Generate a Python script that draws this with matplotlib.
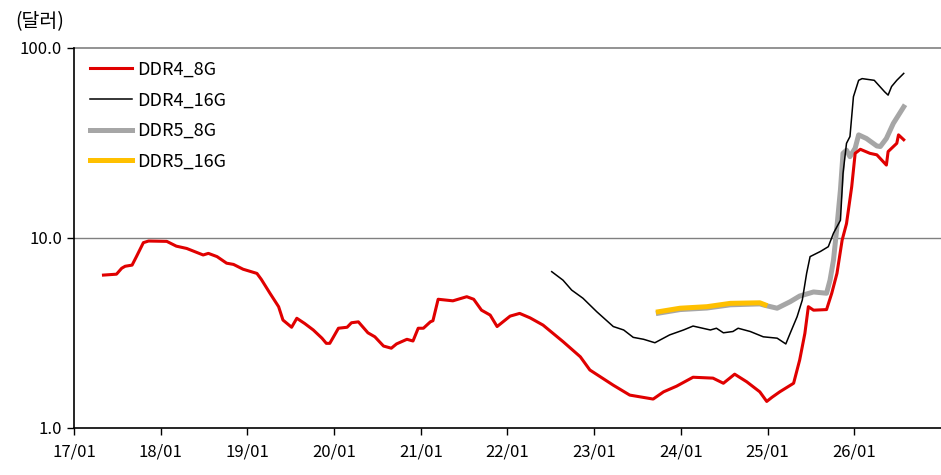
import matplotlib
matplotlib.use("Agg")
import matplotlib.pyplot as plt
from matplotlib.ticker import FixedLocator, NullLocator

plt.rcParams['font.family'] = ['Noto Sans CJK KR', 'DejaVu Sans']

# decimal years
t_red = [2017.34, 2017.49, 2017.55, 2017.59, 2017.67, 2017.72, 2017.80, 2017.86, 2018.07, 2018.18,
         2018.30, 2018.49, 2018.55, 2018.65, 2018.76, 2018.84, 2018.95, 2019.11, 2019.16, 2019.26,
         2019.36, 2019.41, 2019.51, 2019.57, 2019.66, 2019.76, 2019.86, 2019.91, 2019.95, 2019.99,
         2020.05, 2020.15, 2020.20, 2020.28, 2020.39, 2020.47, 2020.57, 2020.66, 2020.72, 2020.84,
         2020.91, 2020.97, 2021.03, 2021.11, 2021.14, 2021.20, 2021.37, 2021.53, 2021.61, 2021.70,
         2021.80, 2021.88, 2022.03, 2022.14, 2022.26, 2022.41, 2022.64, 2022.84, 2022.95, 2023.22,
         2023.41, 2023.68, 2023.80, 2023.95, 2024.14, 2024.37, 2024.49, 2024.62, 2024.76, 2024.91,
         2024.99, 2025.05, 2025.14, 2025.30, 2025.37, 2025.43, 2025.47, 2025.53, 2025.68, 2025.74,
         2025.80, 2025.86, 2025.91, 2025.97, 2026.01, 2026.07, 2026.18, 2026.26, 2026.37, 2026.39,
         2026.49, 2026.51, 2026.57]
v_red = [6.38, 6.45, 6.93, 7.10, 7.20, 7.98, 9.45, 9.64, 9.60, 9.06,
         8.81, 8.14, 8.30, 7.98, 7.37, 7.26, 6.85, 6.51, 6.06, 5.12,
         4.35, 3.70, 3.39, 3.78, 3.55, 3.28, 2.97, 2.79, 2.79, 3.00,
         3.35, 3.39, 3.58, 3.62, 3.17, 3.02, 2.70, 2.63, 2.77, 2.93,
         2.87, 3.35, 3.35, 3.62, 3.67, 4.76, 4.67, 4.91, 4.76, 4.17,
         3.93, 3.42, 3.88, 4.01, 3.80, 3.48, 2.85, 2.37, 2.02, 1.68,
         1.49, 1.42, 1.55, 1.66, 1.85, 1.83, 1.72, 1.92, 1.75, 1.55,
         1.38, 1.45, 1.55, 1.72, 2.28, 3.15, 4.35, 4.17, 4.20, 5.12,
         6.51, 9.76, 11.9, 18.6, 27.9, 29.3, 27.9, 27.4, 24.2, 28.5,
         31.5, 34.9, 32.9]

t_d4_16 = [2022.51, 2022.64, 2022.74, 2022.87, 2023.03, 2023.22, 2023.34, 2023.45, 2023.57, 2023.70,
           2023.87, 2024.03, 2024.14, 2024.34, 2024.41, 2024.49, 2024.60, 2024.66, 2024.80, 2024.95,
           2025.11, 2025.21, 2025.26, 2025.34, 2025.40, 2025.45, 2025.49, 2025.61, 2025.70, 2025.76,
           2025.84, 2025.87, 2025.91, 2025.95, 2025.99, 2026.05, 2026.09, 2026.23, 2026.35, 2026.39,
           2026.43, 2026.49, 2026.57]
v_d4_16 = [6.65, 6.00, 5.32, 4.82, 4.09, 3.42, 3.28, 3.00, 2.93, 2.81,
           3.09, 3.28, 3.44, 3.28, 3.35, 3.17, 3.22, 3.35, 3.22, 3.02,
           2.97, 2.77, 3.15, 3.85, 4.71, 6.51, 7.98, 8.50, 9.00, 10.6,
           12.4, 21.9, 31.5, 34.2, 55.4, 67.6, 69.0, 67.6, 58.8, 56.5,
           62.7, 67.6, 73.5]

t_d5_8 = [2023.74, 2023.99, 2024.30, 2024.57, 2024.91, 2024.97, 2025.11, 2025.26, 2025.37, 2025.53,
          2025.68, 2025.72, 2025.76, 2025.80, 2025.84, 2025.87, 2025.91, 2025.95, 2026.01, 2026.05,
          2026.14, 2026.26, 2026.30, 2026.37, 2026.45, 2026.57]
v_d5_8 = [4.02, 4.20, 4.28, 4.45, 4.50, 4.42, 4.27, 4.62, 4.95, 5.20,
          5.12, 6.00, 7.65, 11.5, 17.9, 27.9, 29.0, 26.8, 29.7, 34.9,
          33.4, 30.5, 30.3, 33.4, 40.1, 49.0]

t_d5_16 = [2023.74, 2023.99, 2024.30, 2024.57, 2024.91, 2024.97]
v_d5_16 = [4.09, 4.27, 4.35, 4.53, 4.56, 4.45]

tick_years = [2017, 2018, 2019, 2020, 2021, 2022, 2023, 2024, 2025, 2026]
tick_labels = ["17/01", "18/01", "19/01", "20/01", "21/01", "22/01", "23/01", "24/01", "25/01", "26/01"]
y_ticks = [1, 10, 100]
y_labels = ["1.0", "10.0", "100.0"]

fig = plt.figure(figsize=(9.41, 4.75), dpi=100)
ax = fig.add_axes([74/941, 1-428/475, 1-74/941, (428-48)/475])

ax.plot(t_red, v_red, color='#E00000', lw=2.2, label='DDR4_8G', zorder=3)
ax.plot(t_d4_16, v_d4_16, color='black', lw=1.1, label='DDR4_16G', zorder=4)
ax.plot(t_d5_8, v_d5_8, color='#A6A6A6', lw=3.6, label='DDR5_8G', zorder=2)
ax.plot(t_d5_16, v_d5_16, color='#FFC000', lw=3.6, label='DDR5_16G', zorder=2.5)

ax.set_yscale('log')
ax.set_ylim(1, 100)
ax.set_xlim(2017, 2027)
ax.yaxis.set_major_locator(FixedLocator(y_ticks))
ax.yaxis.set_minor_locator(NullLocator())
ax.set_yticklabels(y_labels)
ax.set_xticks(tick_years)
ax.set_xticklabels(tick_labels)
ax.tick_params(axis='both', labelsize=12, direction='out', length=5, width=1, colors='black')
ax.tick_params(axis='x', pad=6)
for s in ['top', 'right']:
    ax.spines[s].set_visible(False)
ax.spines['left'].set_linewidth(1.2)
ax.spines['bottom'].set_linewidth(1.2)
ax.axhline(10, color='#808080', lw=1, zorder=1)
ax.axhline(100, color='#808080', lw=1.2, zorder=1, clip_on=False)

fig.text(15/941, 1-22/475, '(달러)', fontsize=14, va='center', ha='left')

leg = ax.legend(loc='upper left', bbox_to_anchor=(0.004, 1.0), frameon=False, fontsize=13,
                handlelength=2.3, handletextpad=0.3, labelspacing=0.7, borderaxespad=0.3)

fig.savefig('out.png', dpi=100)
